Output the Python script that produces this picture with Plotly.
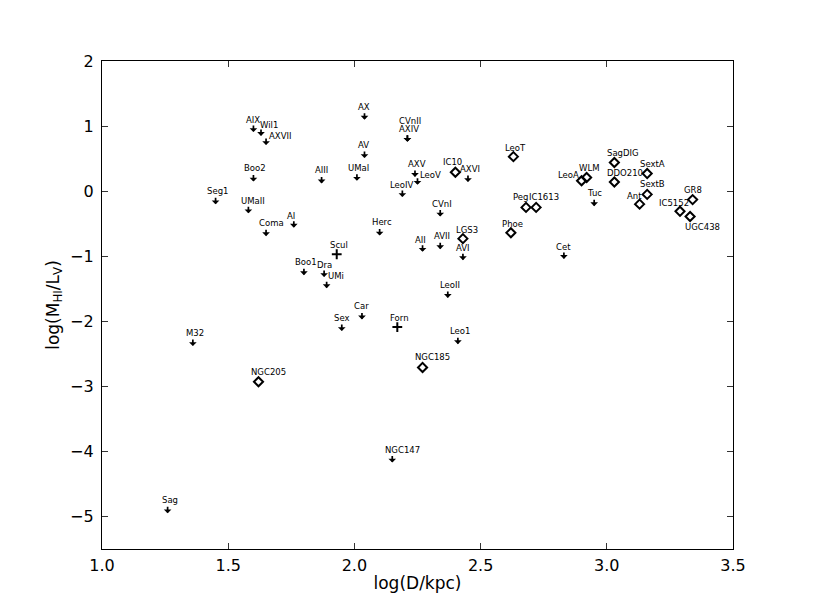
import plotly.graph_objects as go

# galaxies with upper limits only (drawn as down arrows)
lim_names = ['AIX', 'Wil1', 'AXVII', 'Boo2', 'Seg1', 'UMaII', 'AI', 'Coma', 'Boo1', 'Dra',
             'UMi', 'AX', 'CVnII', 'AXIV', 'AV', 'AIII', 'UMaI', 'AXV', 'LeoV', 'LeoIV',
             'AXVI', 'CVnI', 'Herc', 'AII', 'AVII', 'AVI', 'Tuc', 'Cet', 'M32', 'Car',
             'Sex', 'LeoII', 'Leo1', 'NGC147', 'Sag']
lim_logd = [1.60, 1.63, 1.65, 1.60, 1.45, 1.58, 1.76, 1.65, 1.80, 1.88,
            1.89, 2.04, 2.21, 2.21, 2.04, 1.87, 2.01, 2.24, 2.25, 2.19,
            2.45, 2.34, 2.10, 2.27, 2.34, 2.43, 2.95, 2.83, 1.36, 2.03,
            1.95, 2.37, 2.41, 2.15, 1.26]
lim_ratio = [0.97, 0.91, 0.77, 0.21, -0.14, -0.28, -0.50, -0.63, -1.23, -1.26,
             -1.43, 1.16, 0.82, 0.82, 0.57, 0.18, 0.22, 0.28, 0.16, -0.03,
             0.20, -0.33, -0.62, -0.87, -0.83, -1.00, -0.17, -0.98, -2.32, -1.91,
             -2.09, -1.58, -2.29, -4.11, -4.89]

# HI detections (open diamonds)
det_names = ['IC10', 'LGS3', 'Phoe', 'LeoT', 'SagDIG', 'SextA', 'WLM', 'LeoA', 'DDO210',
             'SextB', 'Ant', 'GR8', 'IC5152', 'UGC438', 'Peg', 'IC1613', 'NGC205', 'NGC185']
det_logd = [2.40, 2.43, 2.62, 2.63, 3.03, 3.16, 2.92, 2.90, 3.03,
            3.16, 3.13, 3.34, 3.29, 3.33, 2.68, 2.72, 1.62, 2.27]
det_ratio = [0.29, -0.73, -0.64, 0.53, 0.44, 0.27, 0.21, 0.16, 0.14,
             -0.05, -0.20, -0.13, -0.31, -0.39, -0.25, -0.25, -2.93, -2.71]

# plus markers
plus_names = ['Scul', 'Forn']
plus_logd = [1.93, 2.17]
plus_ratio = [-0.97, -2.09]

x_ticks = [1.0, 1.5, 2.0, 2.5, 3.0, 3.5]
y_ticks = [-5, -4, -3, -2, -1, 0, 1, 2]

# label nudges in pixels (dx, dy); everything else sits just above its marker
label_shift = {
    'Wil1': (8, 7), 'AXVII': (14, 5), 'UMi': (9, 8), 'CVnII': (3, 17), 'LeoV': (13, 6),
    'IC10': (-3, 10), 'AI': (-3, 8), 'SagDIG': (9, 10), 'SextA': (5, 10), 'DDO210': (11, 9),
    'SextB': (5, 10), 'LeoA': (-13, 6), 'Ant': (-5, 8), 'IC5152': (-6, 8), 'UGC438': (12, -10),
    'Peg': (-6, 10), 'IC1613': (8, 10), 'NGC205': (10, 10), 'NGC185': (10, 10),
    'NGC147': (10, 9), 'Coma': (5, 9), 'UMaII': (5, 8), 'LGS3': (4, 9), 'AIX': (0, 8),
    'AIII': (0, 9), 'LeoIV': (0, 8), 'AVI': (0, 8), 'Dra': (0, 8), 'AV': (-1, 9), 'AX': (-1, 9),
    'AII': (-2, 8), 'Cet': (0, 8), 'Car': (0, 9), 'Sex': (0, 9), 'Tuc': (0, 9), 'GR8': (0, 10),
}
FONT = 'DejaVu Sans'

fig = go.Figure()

fig.add_trace(go.Scatter(
    x=det_logd, y=det_ratio, mode='markers', text=det_names,
    marker=dict(symbol='diamond-open', size=7, color='black', line=dict(width=2, color='black')),
    showlegend=False,
))
fig.add_trace(go.Scatter(
    x=plus_logd, y=plus_ratio, mode='markers', text=plus_names,
    marker=dict(symbol='cross-thin-open', size=7, color='black', line=dict(width=2, color='black')),
    showlegend=False,
))
fig.add_trace(go.Scatter(
    x=lim_logd, y=lim_ratio, mode='markers', text=lim_names,
    marker=dict(size=1, color='rgba(0,0,0,0)'),
    showlegend=False,
))

annotations = []
for n, x, y in zip(lim_names, lim_logd, lim_ratio):
    annotations.append(dict(
        x=x, y=y, text='', showarrow=True, ax=0, ay=-8, yshift=-4,
        arrowhead=1, arrowsize=0.75, arrowwidth=1.7, arrowcolor='black',
    ))

for names, xs, ys in [(lim_names, lim_logd, lim_ratio),
                      (det_names, det_logd, det_ratio),
                      (plus_names, plus_logd, plus_ratio)]:
    for n, x, y in zip(names, xs, ys):
        dx, dy = label_shift.get(n, (2, 9))
        annotations.append(dict(
            x=x, y=y, text=n, showarrow=False, xshift=dx, yshift=dy,
            xanchor='center', yanchor='middle',
            font=dict(family=FONT, size=8.5, color='black'),
        ))

axis_common = dict(
    showline=True, linecolor='black', linewidth=1.3, mirror='ticks',
    ticks='inside', ticklen=6, tickwidth=1, tickcolor='#333333',
    showgrid=False, zeroline=False, automargin=False,
    tickfont=dict(family=FONT, size=16, color='black'),
)

# the page body adds an 8px offset, so the figure is 8px smaller and margins shifted
fig.update_layout(
    width=806, height=602,
    margin=dict(l=94, r=81, t=53, b=61, autoexpand=False),
    paper_bgcolor='white', plot_bgcolor='white',
    annotations=annotations,
    xaxis=dict(
        range=[1.0, 3.5], tickvals=x_ticks, ticktext=[f'{v:.1f}' for v in x_ticks],
        ticklabelstandoff=2,
        title=dict(text='log(D/kpc)', font=dict(family=FONT, size=17, color='black'), standoff=2),
        **axis_common,
    ),
    yaxis=dict(
        range=[-5.5, 2.0], tickvals=y_ticks,
        ticklabelstandoff=4,
        title=dict(text='log(M<sub>HI</sub>/L<sub>V</sub>)',
                   font=dict(family=FONT, size=17, color='black'), standoff=6),
        **axis_common,
    ),
)

fig.write_html('out.html')
